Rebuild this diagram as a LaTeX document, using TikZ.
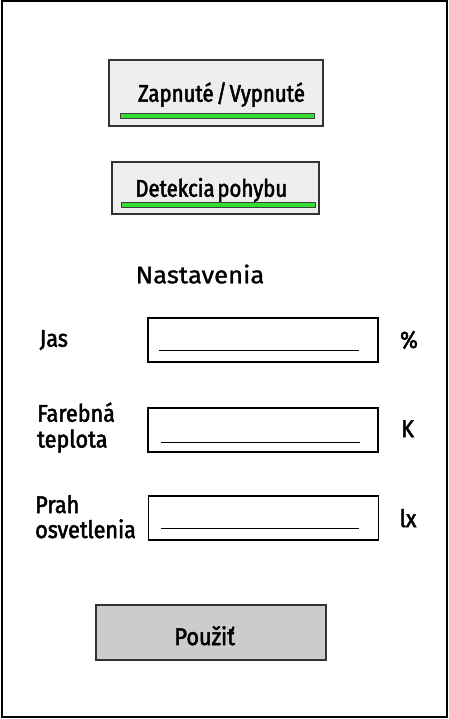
\documentclass[tikz,border=0pt]{standalone}
\usepackage{fontspec}
\setmainfont{Fira Sans}
\newfontfamily\btnfont{Fira Sans}[FakeStretch=0.85,FakeBold=2.2,WordSpace=0.5]
\newfontfamily\lblfont{Fira Sans}[FakeStretch=0.9,FakeBold=2.2]
\newfontfamily\titlefont{Fira Sans}[FakeStretch=1.07,FakeBold=1.2]
\definecolor{btngray}{HTML}{EEEEEE}
\definecolor{applygray}{HTML}{CCCCCC}
\definecolor{barg}{HTML}{33DD33}
\begin{document}
\begin{tikzpicture}[x=1pt,y=-1pt,
  frame/.style={draw=black,line width=2pt},
  btn/.style={draw=black!80,line width=1.5pt,fill=btngray,inner sep=0pt},
  bar/.style={draw=black!75,line width=1pt,fill=barg,inner sep=0pt,minimum height=5pt},
  field/.style={draw=black,line width=1.3pt,fill=white,inner sep=0pt,minimum width=230pt,minimum height=44pt},
  uline/.style={draw=black,line width=1pt},
  btntxt/.style={inner sep=0pt,anchor=base,font=\btnfont\fontsize{24}{26}\selectfont},
  lbl/.style={inner sep=0pt,anchor=base west,font=\lblfont\fontsize{24}{26}\selectfont},
  unit/.style={inner sep=0pt,anchor=base,font=\lblfont\fontsize{24}{26}\selectfont}]
\useasboundingbox (0,0) rectangle (449,719);
\node[frame,minimum width=445pt,minimum height=716pt,inner sep=0pt] (outer) at (224,359) {};
% button 1
\node[btn,minimum width=214pt,minimum height=66pt] (b1) at (216,93) {};
\node[bar,minimum width=194pt] (bar1) at (217,116.5) {};
\node[btntxt] (t1) at (221.5,101.7) {Zapnuté / Vypnuté};
% button 2
\node[btn,minimum width=207pt,minimum height=52pt] (b2) at (215.5,188) {};
\node[bar,minimum width=194pt] (bar2) at (218,205.5) {};
\node[btntxt] (t2) at (211.3,196.7) {Detekcia pohybu};
% title
\node[inner sep=0pt,anchor=base,font=\titlefont\fontsize{24}{26}\selectfont] (title) at (200,283.3) {Nastavenia};
% fields
\node[field] (f1) at (263,340) {};
\coordinate (l1a) at (159,350); \coordinate (l1b) at (359,350);
\draw[uline] (l1a) -- (l1b);
\node[field] (f2) at (263,430) {};
\coordinate (l2a) at (161,442); \coordinate (l2b) at (360,442);
\draw[uline] (l2a) -- (l2b);
\node[field] (f3) at (263.5,518) {};
\coordinate (l3a) at (161,528); \coordinate (l3b) at (359,528);
\draw[uline] (l3a) -- (l3b);
% labels
\node[lbl] (jas) at (39.5,346.7) {Jas};
\node[lbl] (fareb) at (37,421.7) {Farebná};
\node[lbl] (tepl) at (37,447.5) {teplota};
\node[lbl] (prah) at (35,513) {Prah};
\node[lbl] (osvet) at (35,538) {osvetlenia};
\node[unit] (pct) at (409,348) {\%};
\node[unit] (kel) at (407.5,437) {K};
\node[unit] (lux) at (408,527) {lx};
% apply button
\node[btn,fill=applygray,minimum width=230pt,minimum height=55pt] (apply) at (211,632.5) {};
\node[unit] (ta) at (204.7,645) {Použiť};
\end{tikzpicture}
\end{document}
